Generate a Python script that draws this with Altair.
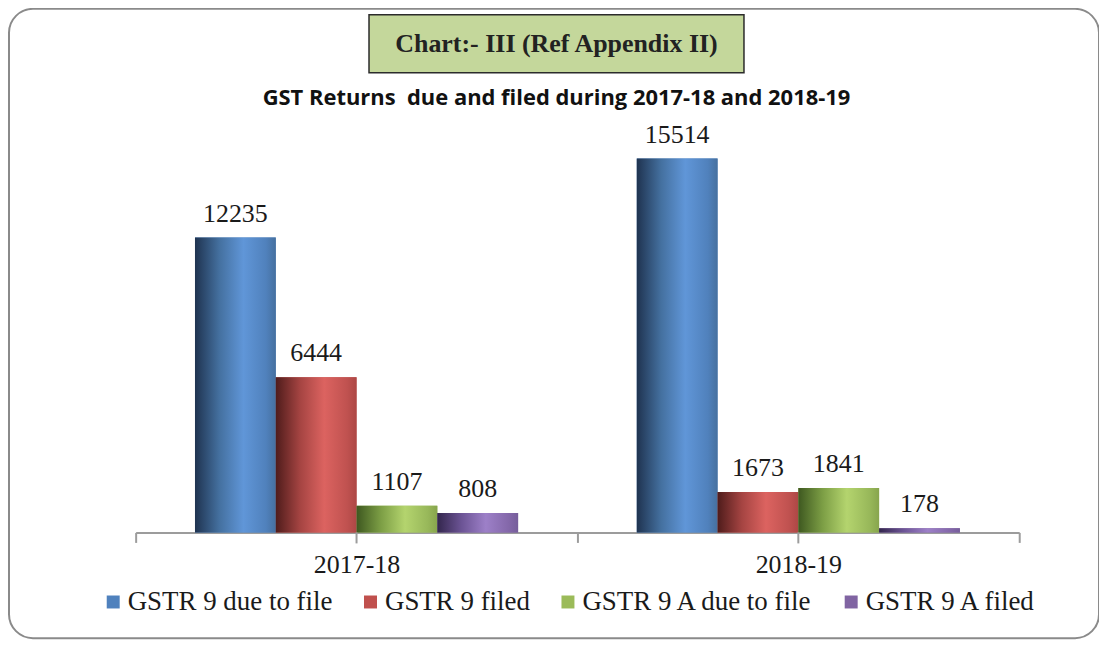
import altair as alt
import pandas as pd

# ---------------- data ----------------
years = ["2017-18", "2018-19"]
series = ["GSTR 9 due to file", "GSTR 9 filed", "GSTR 9 A due to file", "GSTR 9 A filed"]
gstr9_due = [12235, 15514]
gstr9_filed = [6444, 1673]
gstr9a_due = [1107, 1841]
gstr9a_filed = [808, 178]
chart_label = "Chart:- III (Ref Appendix II)"
subtitle = "GST Returns  due and filed during 2017-18 and 2018-19"

# ---------------- styles ----------------
solid = ["#4f81bd", "#c0504d", "#9bbb59", "#8064a2"]
grad_stops = [
    ["#1f3350", "#44709f", "#6096d8", "#5081bc", "#46709f"],
    ["#4f1c1b", "#a54442", "#dc6360", "#c05250", "#ad4745"],
    ["#3e5820", "#7c9e45", "#b4d46e", "#98b85a", "#87a54d"],
    ["#33264d", "#6c5495", "#9d80c8", "#8468aa", "#765e9b"],
]
offsets = [0.0, 0.3, 0.6, 0.88, 1.0]


def grad(cols):
    return alt.LinearGradient(
        gradient="linear", x1=0, x2=1, y1=0, y2=0,
        stops=[alt.GradientStop(color=c, offset=o) for c, o in zip(cols, offsets)],
    )


rows = []
for s, vals in zip(series, [gstr9_due, gstr9_filed, gstr9a_due, gstr9a_filed]):
    for yr, v in zip(years, vals):
        rows.append({"year": yr, "series": s, "value": v})
df = pd.DataFrame(rows)

W, H = 886, 435
SERIF = "Liberation Serif"
AX = "#9c9c9c"

x_scale = alt.Scale(domain=years, paddingInner=0, paddingOuter=0)
x_axis = alt.Axis(title=None, labelAngle=0, tickBand="extent", labelFont=SERIF,
                  labelFontSize=26, labelColor="#1a1a1a", domainColor=AX, domainWidth=2,
                  tickColor=AX, tickWidth=2, tickSize=10, labelPadding=9, grid=False)
x_enc = alt.X("year:N", sort=years, scale=x_scale, axis=x_axis)
xo_enc = alt.XOffset("series:N", sort=series,
                     scale=alt.Scale(domain=series, paddingInner=0, paddingOuter=0.7346))
y_enc = alt.Y("value:Q", scale=alt.Scale(domain=[0, 18000], nice=False), axis=None)

deco = pd.DataFrame({"k": [0]})

border = alt.Chart(deco).mark_rect(
    fill="transparent", stroke="#8a8a8a", strokeWidth=2, cornerRadius=24
).encode(x=alt.value(-127), x2=alt.value(966), y=alt.value(-90), y2=alt.value(541))

title_box = alt.Chart(deco).mark_rect(
    fill="#c4d79b", stroke="#2b2b2b", strokeWidth=1.5
).encode(x=alt.value(234), x2=alt.value(610), y=alt.value(-84), y2=alt.value(-26))

title_text = alt.Chart(deco).mark_text(
    text=chart_label, font=SERIF, fontWeight="bold", fontSize=26, color="#222222",
    baseline="middle", align="center"
).encode(x=alt.value(422), y=alt.value(-55))

sub_text = alt.Chart(deco).mark_text(
    text=subtitle.replace("  ", "\u00a0 "), font="Open Sans", fontWeight="bold",
    fontSize=22, color="#111111", baseline="middle", align="center"
).encode(x=alt.value(422), y=alt.value(-1))

base = alt.Chart(df).mark_bar().encode(
    x=x_enc, xOffset=xo_enc, y=y_enc,
    color=alt.Color(
        "series:N", sort=series, scale=alt.Scale(domain=series, range=solid),
        legend=alt.Legend(title=None, orient="none", legendX=-36, legendY=491,
                          direction="horizontal", columns=4, symbolType="square",
                          symbolSize=169, symbolStrokeWidth=0, labelFont=SERIF,
                          labelFontSize=27, labelColor="#1a1a1a", labelOffset=1,
                          columnPadding=24, padding=0, labelLimit=0),
    ),
)

grad_layers = [
    alt.Chart(df).transform_filter(alt.datum.series == s).mark_bar(fill=grad(g)).encode(
        x=x_enc, xOffset=xo_enc, y=y_enc)
    for s, g in zip(series, grad_stops)
]

# mid-group ticks: drawn from the same table as the bars (one row per year)
center_ticks = alt.Chart(df).transform_filter(
    alt.datum.series == series[0]
).mark_rule(color=AX, strokeWidth=2).encode(
    x=alt.X("year:N", sort=years, scale=x_scale, axis=x_axis, bandPosition=0.5),
    y=alt.value(H), y2=alt.value(H + 11),
)

labels = alt.Chart(df).mark_text(
    font=SERIF, fontSize=26, baseline="alphabetic", dy=-16, color="#1a1a1a"
).encode(x=x_enc, xOffset=xo_enc, y=y_enc, text=alt.Text("value:Q", format="d"))

chart = alt.layer(
    border, title_box, title_text, sub_text, base, *grad_layers, labels, center_ticks
).properties(
    width=W, height=H,
    autosize=alt.AutoSizeParams(type="none"),
    padding={"left": 128, "top": 90, "right": 80, "bottom": 110},
).configure_view(stroke=None)

chart.save("out.html", embed_options={"renderer": "svg", "actions": False})
